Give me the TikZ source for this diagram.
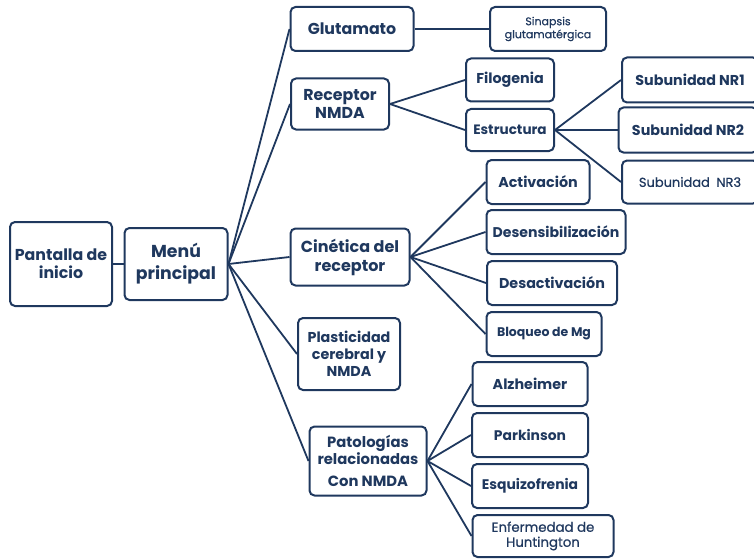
\documentclass[tikz,border=0pt]{standalone}
\usepackage{fontspec}
\setmainfont{Poppins}
\usetikzlibrary{positioning}
\definecolor{navy}{RGB}{31,56,94}

\begin{document}
\begin{tikzpicture}[
    x=1pt, y=-1pt,
    box/.style={
        rectangle, rounded corners=5pt, draw=navy, line width=2pt,
        fill=white, text=navy, align=center, inner sep=1pt,
        font=\bfseries\fontsize{14.3}{17}\selectfont
    },
    bigbox/.style={box, font=\bfseries\fontsize{17.3}{22}\selectfont},
    smallbox/.style={box, font=\addfontfeatures{FakeBold=0.6}\fontsize{11}{13}\selectfont},
    link/.style={draw=navy, line width=1.8pt},
]
\useasboundingbox (0,0) rectangle (754,559);

% Start and main menu
\node[box, font=\bfseries\fontsize{15.8}{18}\selectfont, minimum width=102pt, minimum height=84pt] (inicio) at (61,264) {Pantalla de\\inicio};
\node[bigbox, minimum width=103pt, minimum height=72pt] (menu) at (176,264) {Menú\\principal};

% Level 2
\node[box, font=\bfseries\fontsize{15.8}{18}\selectfont, minimum width=123pt, minimum height=44pt] (glut) at (352,29) {Glutamato};
\node[box, font=\bfseries\fontsize{15.8}{18}\selectfont, minimum width=98pt, minimum height=51pt] (receptor) at (340,104) {Receptor\\NMDA};
\node[box, font=\bfseries\fontsize{16}{19}\selectfont, minimum width=119pt, minimum height=57pt] (cinetica) at (350,257) {Cinética del\\receptor};
\node[box, minimum width=102pt, minimum height=72pt] (plast) at (349,354) {Plasticidad\\cerebral y\\NMDA};
\node[box, font=\bfseries\fontsize{14.8}{17}\selectfont, minimum width=117pt, minimum height=69pt] (pato) at (368,461) {Patologías\\relacionadas\\[5pt]Con NMDA};

% Glutamato
\node[smallbox, minimum width=116pt, minimum height=44pt] (sinapsis) at (548,29) {Sinapsis\\glutamatérgica};

% Receptor NMDA
\node[box, minimum width=88pt, minimum height=43pt] (filo) at (510,80) {Filogenia};
\node[box, font=\bfseries\fontsize{13.6}{16}\selectfont, minimum width=88pt, minimum height=42pt] (estr) at (510,130) {Estructura};
\node[box, minimum width=136pt, minimum height=45pt] (nr1) at (690,80) {Subunidad NR1};
\node[box, minimum width=139pt, minimum height=45pt] (nr2) at (688,130) {Subunidad NR2};
\node[smallbox, font=\addfontfeatures{FakeBold=0.6}\fontsize{13}{15}\selectfont, minimum width=136pt, minimum height=43pt] (nr3) at (690,182) {Subunidad\enspace NR3};

% Cinetica
\node[box, minimum width=103pt, minimum height=44pt] (act) at (538,182) {Activación};
\node[box, font=\bfseries\fontsize{14.1}{16}\selectfont, minimum width=139pt, minimum height=44pt] (desens) at (556,232) {Desensibilización};
\node[box, minimum width=130pt, minimum height=44pt] (desact) at (552,283) {Desactivación};
\node[box, font=\bfseries\fontsize{12.5}{15}\selectfont, minimum width=115pt, minimum height=44pt] (bloqueo) at (544,334) {Bloqueo de Mg};

% Patologias
\node[box, minimum width=115pt, minimum height=44pt] (alz) at (530,384) {Alzheimer};
\node[box, font=\bfseries\fontsize{13.9}{16}\selectfont, minimum width=116pt, minimum height=44pt] (park) at (530,435) {Parkinson};
\node[box, font=\bfseries\fontsize{13.9}{16}\selectfont, minimum width=116pt, minimum height=44pt] (esq) at (530,486) {Esquizofrenia};
\node[smallbox, font=\addfontfeatures{FakeBold=0.6}\fontsize{13.3}{15}\selectfont, minimum width=141pt, minimum height=42pt] (huntington) at (543,536) {Enfermedad de\\Huntington};

% Connectors
\draw[link] (inicio) -- (menu);
\foreach \n in {glut,receptor,cinetica,plast,pato}
    \draw[link] (menu.east) -- (\n.west);
\draw[link] (glut) -- (sinapsis);
\foreach \n in {filo,estr}
    \draw[link] (receptor.east) -- (\n.west);
\foreach \n in {nr1,nr2,nr3}
    \draw[link] (estr.east) -- (\n.west);
\foreach \n in {act,desens,desact,bloqueo}
    \draw[link] (cinetica.east) -- (\n.west);
\foreach \n in {alz,park,esq,huntington}
    \draw[link] (pato.east) -- (\n.west);
\end{tikzpicture}
\end{document}
